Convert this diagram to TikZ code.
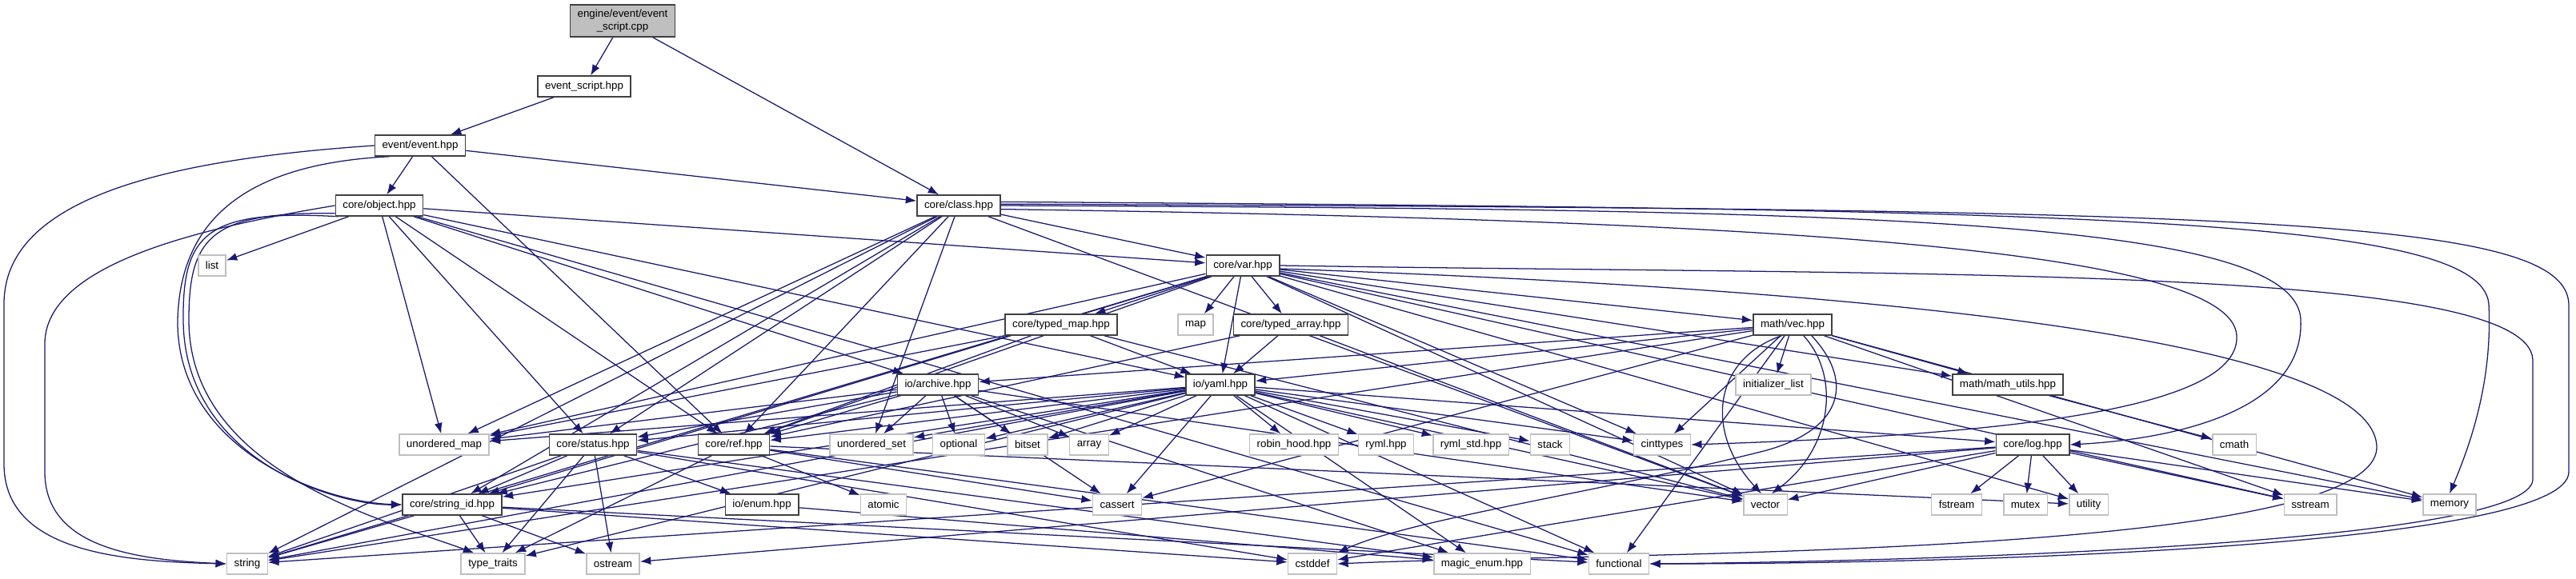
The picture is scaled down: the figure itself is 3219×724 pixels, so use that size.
\documentclass[tikz,border=0pt]{standalone}
\usepackage{fontspec}
\setmainfont{Liberation Sans}
\usepackage{tikz}
\usetikzlibrary{arrows.meta}
\definecolor{edgeblue}{HTML}{191970}
\definecolor{sysgray}{HTML}{BFBFBF}
\definecolor{hdrline}{HTML}{404040}
\pgfdeclarelayer{back}
\pgfsetlayers{back,main}
\tikzset{
hdr/.style={
draw=hdrline,
line width=1.1pt,
fill=white,
minimum height=19.5pt,
inner xsep=6.8pt,
inner ysep=0pt,
font=\fontsize{10}{12}\selectfont
},
sys/.style={
hdr,
draw=sysgray
},
srcfile/.style={
hdr,
fill=sysgray,
align=center,
minimum height=30pt
},
arrow/.style={
-{Latex[length=10pt,width=7.5pt]},
draw=edgeblue,
line width=0.95pt
}
}

\begin{document}
\begin{tikzpicture}[x=0.75pt,y=-0.75pt]
\useasboundingbox (0,0) rectangle (3219,724);
% project headers
\node[srcfile](cpp) at (778,26){engine/event/event\\\_script.cpp};
\node[hdr](eshpp) at (730,108){event\_script.hpp};
\node[hdr](event) at (525,182){event/event.hpp};
\node[hdr](object) at (474,257){core/object.hpp};
\node[hdr](class) at (1198,257){core/class.hpp};
\node[hdr](var) at (1553,332){core/var.hpp};
\node[hdr](tmap) at (1326,406){core/typed\_map.hpp};
\node[hdr](tarr) at (1613,406){core/typed\_array.hpp};
\node[hdr](vec) at (2240,406){math/vec.hpp};
\node[hdr](archive) at (1172,481){io/archive.hpp};
\node[hdr](yaml) at (1525,481){io/yaml.hpp};
\node[hdr](mutils) at (2509,481){math/math\_utils.hpp};
\node[hdr](status) at (741,556){core/status.hpp};
\node[hdr](ref) at (917,556){core/ref.hpp};
\node[hdr](log) at (2540,556){core/log.hpp};
\node[hdr](strid) at (565,631){core/string\_id.hpp};
\node[hdr](enum) at (952,631){io/enum.hpp};
% system headers
\node[sys](list) at (265,332){list};
\node[sys](map) at (1494,406){map};
\node[sys](initl) at (2216,481){initializer\_list};
\node[sys](umap) at (555,556){unordered\_map};
\node[sys](uset) at (1089,556){unordered\_set};
\node[sys](optional) at (1198,556){optional};
\node[sys](bitset) at (1284,556){bitset};
\node[sys](array) at (1361,556){array};
\node[sys](robin) at (1617,556){robin\_hood.hpp};
\node[sys](ryml) at (1732,556){ryml.hpp};
\node[sys](rymlstd) at (1838,556){ryml\_std.hpp};
\node[sys](stack) at (1937,556){stack};
\node[sys](cint) at (2077,556){cinttypes};
\node[sys](cmath) at (2792,556){cmath};
\node[sys](atomic) at (1104,631){atomic};
\node[sys](cassert) at (1396,631){cassert};
\node[sys](vector) at (2206,631){vector};
\node[sys](fstream) at (2445,631){fstream};
\node[sys](mutex) at (2531,631){mutex};
\node[sys](utility) at (2610,631){utility};
\node[sys](sstream) at (2887,631){sstream};
\node[sys](memory) at (3061,631){memory};
\node[sys](string) at (309,705){string};
\node[sys](ttraits) at (616,705){type\_traits};
\node[sys](ostream) at (766,705){ostream};
\node[sys](cstddef) at (1640,705){cstddef};
\node[sys](magic) at (1852,705){magic\_enum.hpp};
\node[sys](functional) at (2023,705){functional};

\begin{pgfonlayer}{back}
\foreach \x/\y in {cpp/eshpp,cpp/class,eshpp/event,event/object,event/class,event/ref,
object/list,object/umap,object/status,object/ref,object/archive,object/var,object/yaml,object/functional,
class/var,class/string,class/umap,class/strid,class/status,class/ref,class/uset,class/vector,
var/tmap,var/map,var/tarr,var/yaml,var/vec,var/mutils,var/string,var/strid,var/umap,var/ref,var/cint,var/vector,var/sstream,var/memory,var/utility,
tmap/umap,tmap/ref,tmap/yaml,tmap/vector,
tarr/ref,tarr/yaml,tarr/vector,
vec/archive,vec/yaml,vec/initl,vec/mutils,vec/sstream,vec/memory,vec/cassert,vec/cint,vec/functional,vec/string,
archive/umap,archive/status,archive/ref,archive/strid,archive/uset,archive/optional,archive/bitset,archive/array,archive/vector,archive/cassert,archive/magic,
yaml/umap,yaml/status,yaml/ref,yaml/strid,yaml/uset,yaml/optional,yaml/bitset,yaml/array,yaml/robin,yaml/ryml,yaml/rymlstd,yaml/stack,yaml/cint,yaml/cassert,yaml/vector,yaml/log,yaml/string,yaml/ttraits,yaml/magic,yaml/functional,
mutils/cmath,
status/strid,status/string,status/ttraits,status/ostream,status/enum,status/cstddef,status/magic,
ref/atomic,ref/cassert,ref/ttraits,ref/functional,ref/utility,
strid/string,strid/ttraits,strid/ostream,strid/cstddef,strid/functional,
enum/magic,
log/fstream,log/mutex,log/utility,log/sstream,log/memory,log/vector,log/string,log/cstddef,log/ostream}
\draw[arrow](\x)--(\y);

% round the initializer_list box
\draw[arrow](vec.225) .. controls (2140,450) and (2130,540) .. (vector.110);
\draw[arrow](vec.-45) .. controls (2300,470) and (2290,560) .. (vector.60);
\draw[arrow](vec.-30) .. controls (2320,480) and (2300,540) .. (2200,565) .. controls (2000,615) and (1760,650) .. (cstddef.north east);
% long way round on the left
\draw[arrow](event.west) .. controls (200,200) and (5,250) .. (5,380) -- (5,580) .. controls (5,690) and (150,702) .. (string.west);
\draw[arrow](object.west) .. controls (250,285) and (56,330) .. (56,430) -- (56,590) .. controls (56,685) and (170,700) .. (string.west);
\draw[arrow](event.200) .. controls (300,205) and (225,280) .. (222,400) .. controls (220,560) and (400,628) .. (strid.west);
\draw[arrow](object.195) .. controls (260,262) and (228,290) .. (229,400) .. controls (230,575) and (420,632) .. (strid.west);
\draw[arrow](object.190) .. controls (265,265) and (236,295) .. (236,400) .. controls (236,590) and (480,650) .. (ttraits.150);
% long way round on the right
\draw[arrow](class.east) .. controls (2300,262) and (2870,270) .. (2875,400) .. controls (2880,520) and (2700,550) .. (log.east);
\draw[arrow](class.5) .. controls (2600,262) and (3100,270) .. (3110,380) .. controls (3115,480) and (3085,560) .. (memory.north);
\draw[arrow](class.2) .. controls (2800,262) and (3205,270) .. (3210,380) -- (3210,590) .. controls (3210,680) and (2500,705) .. (functional.east);
\draw[arrow](class.-5) .. controls (2200,275) and (2790,310) .. (2795,420) .. controls (2800,520) and (2450,545) .. (cint.east);
\draw[arrow](var.east) .. controls (2400,345) and (3160,330) .. (3165,450) -- (3165,600) .. controls (3160,680) and (2400,702) .. (functional.east);
\draw[arrow](var.-5) .. controls (2300,360) and (2970,420) .. (2970,560) .. controls (2965,700) and (2000,690) .. (cstddef.east);
\end{pgfonlayer}
\end{tikzpicture}
\end{document}
